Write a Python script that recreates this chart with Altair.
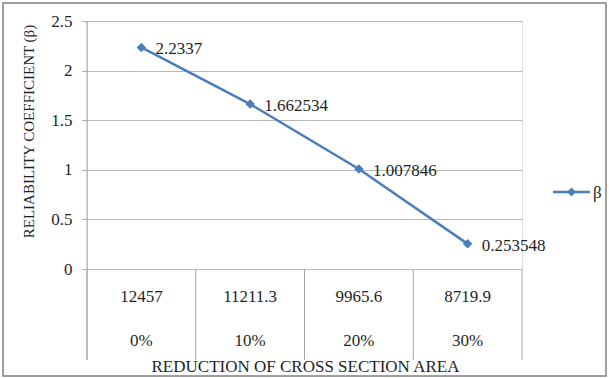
import altair as alt
import pandas as pd

# Cross-section area and its reduction, with the reliability coefficient for each
area = ["12457", "11211.3", "9965.6", "8719.9"]
reduction = ["0%", "10%", "20%", "30%"]
beta = [2.2337, 1.662534, 1.007846, 0.253548]
y_ticks = [0, 0.5, 1, 1.5, 2, 2.5]
series_name = "β"
x_title = "REDUCTION OF CROSS SECTION AREA"
y_title = "RELIABILITY COEFFICIENT (β)"

df = pd.DataFrame({
    "i": list(range(len(beta))),
    "area": area,
    "reduction": reduction,
    "beta": beta,
    "label": [str(b) for b in beta],
})
seps = pd.DataFrame({"s": [k - 0.5 for k in range(len(beta) + 1)]})
one = pd.DataFrame({"name": [series_name], "t": [x_title]})

FONT = "'Liberation Serif', 'Times New Roman', Times, 'DejaVu Serif', serif"
FS = 17
INK = "#1f1f1f"
BLUE = "#4a7ebb"
GRID = "#b9b9b9"
AXIS = "#a6a6a6"
W, H = 435, 248

xscale = alt.Scale(domain=[-0.5, len(beta) - 0.5], nice=False, zero=False)
xs = alt.X("i:Q", scale=xscale, axis=None)
ys = alt.Y(
    "beta:Q",
    scale=alt.Scale(domain=[0, 2.5], nice=False),
    axis=alt.Axis(
        values=y_ticks, format="~g",
        labelFont=FONT, labelFontSize=FS, labelColor=INK, labelPadding=10,
        tickSize=5, tickColor=AXIS, domain=False,
        grid=True, gridColor=GRID, gridWidth=1,
        title=y_title, titleFont=FONT, titleFontSize=15, titleFontWeight="normal",
        titleColor=INK, titleX=-59, titleY=110, titleAngle=270,
        titleAlign="center", titleBaseline="middle",
    ),
)

base = alt.Chart(df)

# outer frame around the whole figure
frame = alt.Chart(one).mark_rect(filled=False, stroke="#808080", strokeWidth=1.5).encode(
    x=alt.value(-84), x2=alt.value(519), y=alt.value(-18), y2=alt.value(355)
)

# vertical axis line, running down through the category table
yline = alt.Chart(one).mark_rule(color=AXIS, strokeWidth=1).encode(
    x=alt.value(0), y=alt.value(0), y2=alt.value(339)
)

# separators between categories below the plot
sep = alt.Chart(seps).mark_rule(color=AXIS, strokeWidth=1).encode(
    x=alt.X("s:Q", scale=xscale, axis=None), y=alt.value(H), y2=alt.value(339)
)

line = base.mark_line(color=BLUE, strokeWidth=2.5).encode(x=xs, y=ys)
pts = base.mark_point(shape="diamond", filled=True, size=90, color=BLUE, opacity=1).encode(x=xs, y=ys)
labels = base.mark_text(align="left", baseline="middle", dx=14, dy=2, font=FONT,
                        fontSize=FS, color=INK).encode(x=xs, y=ys, text="label:N")

cat1 = base.mark_text(baseline="middle", font=FONT, fontSize=FS, color=INK).encode(
    x=xs, y=alt.value(276), text="area:N")
cat2 = base.mark_text(baseline="middle", font=FONT, fontSize=FS, color=INK).encode(
    x=xs, y=alt.value(320), text="reduction:N")
xt = alt.Chart(one).mark_text(baseline="middle", font=FONT, fontSize=FS, color=INK).encode(
    x=alt.value(W / 2 + 1), y=alt.value(346), text="t:N")

# legend
leg_line = alt.Chart(one).mark_rule(color=BLUE, strokeWidth=2.5).encode(
    x=alt.value(466), x2=alt.value(503), y=alt.value(171))
leg_pt = alt.Chart(one).mark_point(shape="diamond", filled=True, size=80, color=BLUE, opacity=1).encode(
    x=alt.value(484.5), y=alt.value(171))
leg_txt = alt.Chart(one).mark_text(align="left", baseline="middle", font=FONT, fontSize=FS,
                                   color=INK).encode(x=alt.value(506), y=alt.value(172), text="name:N")

chart = alt.layer(
    frame, line, yline, sep, pts, labels, cat1, cat2, xt, leg_line, leg_pt, leg_txt
).properties(
    width=W, height=H,
    autosize=alt.AutoSizeParams(type="none"),
    padding={"left": 87, "top": 21, "right": 87, "bottom": 109},
).configure_view(stroke=None).configure(background="white")

chart.save("out.html", embed_options={"renderer": "svg", "actions": False})
